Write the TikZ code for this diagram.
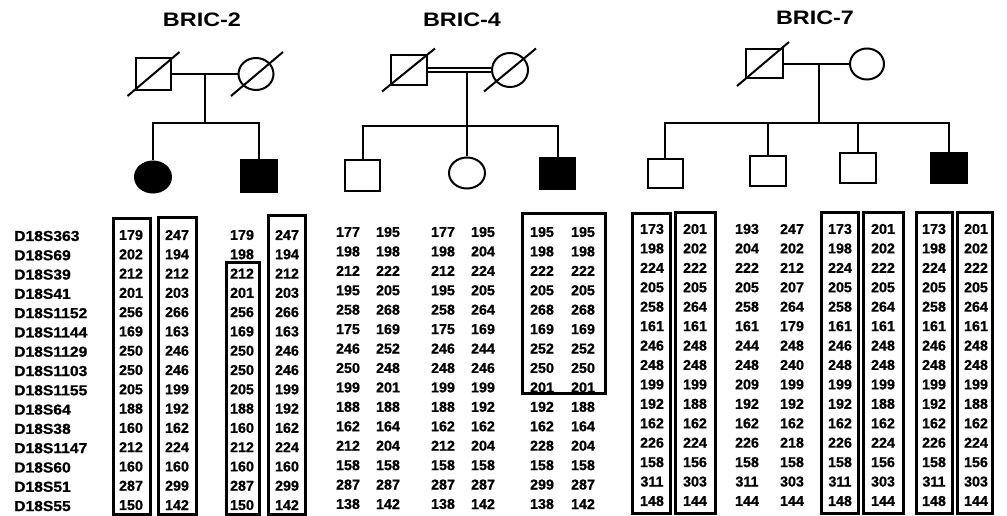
\documentclass[tikz,border=0pt]{standalone}
\usepackage{fontspec}
\setmainfont{Liberation Sans}[BoldFeatures={FakeBold=0.8}]
\newfontfamily\titlef{Liberation Sans}[FakeStretch=1.2]
\newfontfamily\labf{Liberation Sans}[FakeStretch=1.08, BoldFeatures={FakeBold=0.8}]
\usetikzlibrary{shapes.geometric,calc}
\tikzset{
  sym/.style={draw, line width=2pt, inner sep=0pt},
  sq/.style={sym, rectangle, minimum width=35pt, minimum height=31pt},
  ci/.style={sym, ellipse, minimum width=35pt, minimum height=32pt},
  aff/.style={fill=black},
  link/.style={line width=2pt},
  hbox/.style={line width=3pt},
  allele/.style={font=\fontsize{14.3}{14.3}\selectfont\bfseries, inner sep=0pt},
  marker/.style={font=\labf\fontsize{14.5}{14.5}\selectfont\bfseries, anchor=west, inner sep=0pt},
  famtitle/.style={font=\titlef\fontsize{19.5}{19.5}\selectfont\bfseries, inner sep=0pt}
}
\begin{document}
\begin{tikzpicture}[x=1pt,y=-1pt]
\useasboundingbox (0,0) rectangle (1007,516);

% ---------- titles ----------
\node[famtitle] (t2) at (202,20) {BRIC-2};
\node[famtitle] (t4) at (462,20) {BRIC-4};
\node[famtitle] (t7) at (815,18) {BRIC-7};

% ---------- BRIC-2 pedigree ----------
\node[sq, minimum height=32pt] (f2) at (153.5,74) {};
\node[ci] (m2) at (256,74) {};
\draw[link] ($(f2)+(-26,22)$) -- ($(f2)+(26,-22)$);
\draw[link] ($(m2)+(-25,22)$) -- ($(m2)+(27,-22)$);
\draw[link] (f2) -- (m2);
\coordinate (mm2) at (205,74);
\coordinate (s2) at (205,123);
\draw[link] (mm2) -- (s2);
\node[ci, aff, minimum width=36pt, minimum height=31pt] (c21) at (153,177) {};
\node[sq, aff, minimum width=36pt, minimum height=32pt] (c22) at (259,176) {};
\draw[link] (c21.north) |- (s2);
\draw[link] (c22.north) |- (s2);

% ---------- BRIC-4 pedigree ----------
\node[sq, minimum width=36pt, minimum height=30pt] (f4) at (409,70) {};
\node[ci, minimum width=36pt, minimum height=34pt] (m4) at (510,70) {};
\draw[link] ($(f4)+(-27,21.5)$) -- ($(f4)+(26,-21.5)$);
\draw[link] ($(m4)+(-26,21.5)$) -- ($(m4)+(26,-21.5)$);
\draw[double, double distance=2.8pt, line width=2pt] (f4) -- (m4);
\coordinate (mm4) at (467,72);
\coordinate (s4) at (467,126);
\draw[link] (mm4) -- (s4);
\node[sq, minimum height=31pt] (c41) at (362.5,175.5) {};
\node[ci, minimum width=36pt, minimum height=31pt] (c42) at (467,173) {};
\node[sq, aff, minimum height=31pt] (c43) at (557.5,173.5) {};
\draw[link] (c41.north) |- (s4);
\draw[link] (c42.north) -- (s4);
\draw[link] (c43.north) |- (s4);

% ---------- BRIC-7 pedigree ----------
\node[sq, minimum width=37pt, minimum height=29pt] (f7) at (764.5,64) {};
\node[ci, minimum width=34pt, minimum height=31pt] (m7) at (867,64) {};
\draw[link] ($(f7)+(-27.5,22)$) -- ($(f7)+(24.5,-22)$);
\draw[link] (f7) -- (m7);
\coordinate (mm7) at (819,64);
\coordinate (s7) at (819,123);
\draw[link] (mm7) -- (s7);
\node[sq, minimum width=35pt, minimum height=29pt] (c71) at (665,173.5) {};
\node[sq, minimum width=36pt, minimum height=30pt] (c72) at (768,171) {};
\node[sq, minimum width=36pt, minimum height=30pt] (c73) at (858,168) {};
\node[sq, aff, minimum width=36pt, minimum height=30pt] (c74) at (949,168) {};
\draw[link] (c71.north) |- (s7);
\draw[link] (c72.north) |- (s7);
\draw[link] (c73.north) |- (s7);
\draw[link] (c74.north) |- (s7);

% ---------- marker labels ----------
\foreach \m [count=\i] in {D18S363,D18S69,D18S39,D18S41,D18S1152,D18S1144,D18S1129,D18S1103,D18S1155,D18S64,D18S38,D18S1147,D18S60,D18S51,D18S55}{
  \node[marker] (mk-\i) at (14,{236+(\i-1)*19.29}) {\m};
}

% ---------- BRIC-2 alleles ----------
\foreach \r [count=\i] in {
 {179,247,179,247},{202,194,198,194},{212,212,212,212},{201,203,201,203},
 {256,266,256,266},{169,163,169,163},{250,246,250,246},{250,246,250,246},
 {205,199,205,199},{188,192,188,192},{160,162,160,162},{212,224,212,224},
 {160,160,160,160},{287,299,287,299},{150,142,150,142}}{
  \foreach \v [count=\j] in \r {
    \pgfmathsetmacro{\xx}{{131,177,242,287}[\j-1]}
    \node[allele] (b2-\i-\j) at (\xx,{235+(\i-1)*19.29}) {\v};
  }
}

% ---------- BRIC-4 alleles ----------
\foreach \r [count=\i] in {
 {177,195,177,195,195,195},{198,198,198,204,198,198},{212,222,212,224,222,222},
 {195,205,195,205,205,205},{258,268,258,264,268,268},{175,169,175,169,169,169},
 {246,252,246,244,252,252},{250,248,248,246,250,250},{199,201,199,199,201,201},
 {188,188,188,192,192,188},{162,164,162,162,162,164},{212,204,212,204,228,204},
 {158,158,158,158,158,158},{287,287,287,287,299,287},{138,142,138,142,138,142}}{
  \foreach \v [count=\j] in \r {
    \pgfmathsetmacro{\xx}{{348,388,443,483,542,583}[\j-1]}
    \node[allele] (b4-\i-\j) at (\xx,{232+(\i-1)*19.43}) {\v};
  }
}

% ---------- BRIC-7 alleles ----------
\foreach \r [count=\i] in {
 {173,201,193,247,173,201,173,201},{198,202,204,202,198,202,198,202},
 {224,222,222,212,224,222,224,222},{205,205,205,207,205,205,205,205},
 {258,264,258,264,258,264,258,264},{161,161,161,179,161,161,161,161},
 {246,248,244,248,246,248,246,248},{248,248,248,240,248,248,248,248},
 {199,199,209,199,199,199,199,199},{192,188,192,192,192,188,192,188},
 {162,162,162,162,162,162,162,162},{226,224,226,218,226,224,226,224},
 {158,156,158,158,158,156,158,156},{311,303,311,303,311,303,311,303},
 {148,144,144,144,148,144,148,144}}{
  \foreach \v [count=\j] in \r {
    \pgfmathsetmacro{\xx}{{652,695,747,792,840,883,934,976}[\j-1]}
    \node[allele] (b7-\i-\j) at (\xx,{229+(\i-1)*19.43}) {\v};
  }
}

% ---------- haplotype boxes ----------
\draw[hbox] (113,218) rectangle (150,514);
\draw[hbox] (158,217) rectangle (196,514);
\draw[hbox] (226,262) rectangle (259,514);
\draw[hbox] (268,215) rectangle (305,514);
\draw[hbox] (522,213) rectangle (605,393);
\draw[hbox] (632,213) rectangle (670,513);
\draw[hbox] (675,212) rectangle (715,513);
\draw[hbox] (821,212) rectangle (858,513);
\draw[hbox] (863,212) rectangle (903,513);
\draw[hbox] (916,212) rectangle (952,513);
\draw[hbox] (957,212) rectangle (992,513);
\end{tikzpicture}
\end{document}
